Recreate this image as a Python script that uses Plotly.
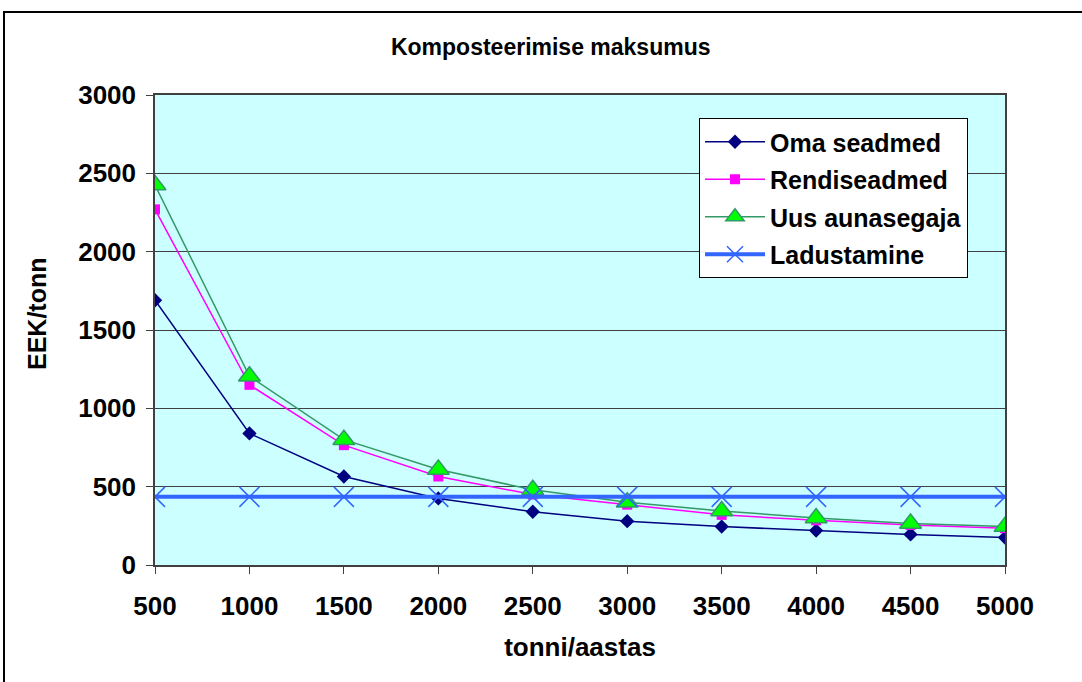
import plotly.graph_objects as go

x_vals = [500, 1000, 1500, 2000, 2500, 3000, 3500, 4000, 4500, 5000]
oma = [1690, 840, 565, 425, 340, 280, 245, 220, 195, 175]
rendi = [2270, 1150, 765, 565, 450, 385, 320, 285, 255, 235]
uus = [2425, 1205, 800, 610, 480, 400, 345, 300, 265, 245]
ladu = [435, 435, 435, 435, 435, 435, 435, 435, 435, 435]
y_ticks = [0, 500, 1000, 1500, 2000, 2500, 3000]

fig = go.Figure()
fig.add_trace(go.Scatter(x=x_vals, y=oma, name="Oma seadmed", mode="lines+markers",
                         legendgroup="a",
                         line=dict(color="#000080", width=1.5),
                         marker=dict(symbol="diamond", size=11, color="#000080")))
fig.add_trace(go.Scatter(x=x_vals, y=rendi, name="Rendiseadmed", mode="lines+markers",
                         legendgroup="b",
                         line=dict(color="#FF00FF", width=1.5),
                         marker=dict(symbol="square", size=10, color="#FF00FF")))
fig.add_trace(go.Scatter(x=x_vals, y=uus, name="Uus aunasegaja", mode="lines+markers",
                         legendgroup="c",
                         line=dict(color="#339966", width=1.5),
                         marker=dict(symbol="triangle-up", size=19, color="#00FF00",
                                     line=dict(color="#339966", width=1.5))))
fig.add_trace(go.Scatter(x=x_vals, y=ladu, name="Ladustamine", mode="lines+markers",
                         legendgroup="d",
                         line=dict(color="#3366FF", width=4),
                         marker=dict(symbol="x-thin-open", size=20, color="#3366FF",
                                     line=dict(color="#3366FF", width=1.5))))

font_family = "Liberation Sans, Arial, sans-serif"
bold = dict(family=font_family, color="black", weight="bold")
fig.update_layout(
    width=1082, height=682,
    margin=dict(l=155, r=77, t=95, b=117),
    paper_bgcolor="white",
    plot_bgcolor="#CCFFFF",
    font=dict(family=font_family, color="black"),
    title=dict(text="Komposteerimise maksumus", x=0.509, xanchor="center",
               y=1 - 47 / 682, yanchor="middle", font=dict(size=23, **bold)),
    legend=dict(x=(699 - 155) / 850, xanchor="left", y=1 - (118 - 95) / 470, yanchor="top",
                bgcolor="white", bordercolor="black", borderwidth=1,
                font=dict(size=25, **bold), tracegroupgap=2,
                itemwidth=60),
    showlegend=True,
)
fig.update_xaxes(
    range=[500, 5000], tickvals=x_vals, ticktext=[str(v) for v in x_vals],
    ticks="outside", ticklen=7, tickcolor="#404040", ticklabelstandoff=10,
    tickfont=dict(size=26, **bold), showgrid=False, zeroline=False,
    showline=True, linecolor="#404040", linewidth=1.5, mirror=True,
    title=dict(text="tonni/aastas", font=dict(size=26, **bold), standoff=18),
)
fig.update_yaxes(
    range=[0, 3000], tickvals=y_ticks, ticktext=[str(v) for v in y_ticks],
    ticks="outside", ticklen=7, tickcolor="#404040", ticklabelstandoff=5,
    tickfont=dict(size=26, **bold), showgrid=True, gridcolor="#404040", gridwidth=1,
    zeroline=False, showline=True, linecolor="#404040", linewidth=1.5, mirror=True,
)
fig.add_annotation(text="EEK/tonn", textangle=-90, xref="paper", yref="paper",
                   x=(37 - 155) / 850, y=(565 - 314) / 470, xanchor="center", yanchor="middle",
                   showarrow=False, font=dict(size=25, **bold))
fig.add_shape(type="rect", xref="paper", yref="paper",
              x0=(4 - 155) / 850, x1=(1090 - 155) / 850,
              y0=-(690 - 565) / 470, y1=1 + (95 - 12) / 470,
              line=dict(color="black", width=2), fillcolor="rgba(0,0,0,0)", layer="below")

fig.write_html("out.html")
